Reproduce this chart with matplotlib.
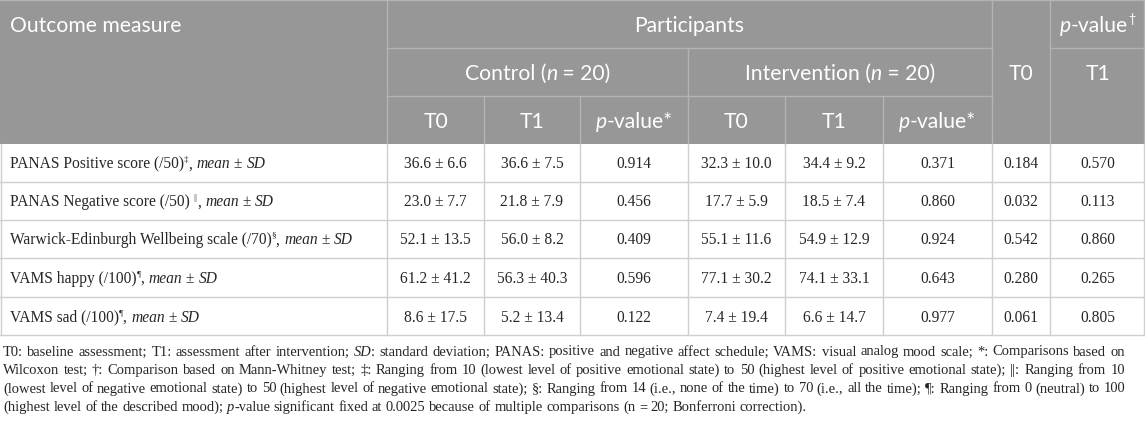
import matplotlib
matplotlib.use("Agg")
import matplotlib.pyplot as plt

# table content
row_names = ["PANAS Positive score (/50)", "PANAS Negative score (/50) ",
             "Warwick-Edinburgh Wellbeing scale (/70)", "VAMS happy (/100)", "VAMS sad (/100)"]
row_marks = ["‡", "||", "§", "¶", "¶"]

ctrl_t0_mean = [36.6, 23.0, 52.1, 61.2, 8.6]
ctrl_t0_sd = [6.6, 7.7, 13.5, 41.2, 17.5]
ctrl_t1_mean = [36.6, 21.8, 56.0, 56.3, 5.2]
ctrl_t1_sd = [7.5, 7.9, 8.2, 40.3, 13.4]
ctrl_p = [0.914, 0.456, 0.409, 0.596, 0.122]
int_t0_mean = [32.3, 17.7, 55.1, 77.1, 7.4]
int_t0_sd = [10.0, 5.9, 11.6, 30.2, 19.4]
int_t1_mean = [34.4, 18.5, 54.9, 74.1, 6.6]
int_t1_sd = [9.2, 7.4, 12.9, 33.1, 14.7]
int_p = [0.371, 0.860, 0.924, 0.643, 0.977]
between_p_t0 = [0.184, 0.032, 0.542, 0.280, 0.061]
between_p_t1 = [0.570, 0.113, 0.860, 0.265, 0.805]

footnotes = [
    [("T0: baseline assessment; T1: assessment after intervention; ", 0), ("SD", 1),
     (": standard deviation; PANAS: positive and negative affect schedule; VAMS: visual analog mood scale; *: Comparisons based on", 0)],
    [("Wilcoxon test; †: Comparison based on Mann-Whitney test; ‡: Ranging from 10 (lowest level of positive emotional state) to 50 (highest level of positive emotional state); ||: Ranging from 10", 0)],
    [("(lowest level of negative emotional state) to 50 (highest level of negative emotional state); §: Ranging from 14 (i.e., none of the time) to 70 (i.e., all the time); ¶: Ranging from 0 (neutral) to 100", 0)],
    [("(highest level of the described mood); ", 0), ("p", 1),
     ("-value significant fixed at 0.0025 because of multiple comparisons (n = 20; Bonferroni correction).", 0)],
]

W, H = 1145, 423
fig = plt.figure(figsize=(W / 100, H / 100), dpi=100)
ax = fig.add_axes([0, 0, 1, 1])
ax.set_xlim(0, W)
ax.set_ylim(H, 0)
ax.axis("off")
rend = fig.canvas.get_renderer()

SANS = "Lato"
SERIF = "Liberation Serif"
HEAD_BG = "#979797"
HEAD_LINE = "#b3b3b3"
BODY_LINE = "#cfcfcf"
TXT = "#262626"

cols = [0, 387, 484, 580, 688, 785, 883, 992, 1050, 1145]
hrows = [0, 48, 96, 144]
brows = [144, 182, 220, 258, 297, 335]


def width(txt, **kw):
    a = ax.text(0, 0, "|" + txt + "|", **kw)
    b = ax.text(0, 0, "||", **kw)
    w = a.get_window_extent(rend).width - b.get_window_extent(rend).width
    a.remove()
    b.remove()
    return w


def runs(x, y, parts, ha="left", size=10, family=SERIF, color=TXT):
    # parts: (text, style) with style '' normal, 'i' italic, 's' superscript
    kws = []
    for txt, st in parts:
        kws.append(dict(family=family, color=color,
                        fontsize=size * 0.6 if "s" in st else size,
                        fontstyle="italic" if "i" in st else "normal"))
    ws = [width(p[0], **kw) for p, kw in zip(parts, kws)]
    cx = x - sum(ws) / 2 if ha == "center" else x
    for (txt, st), kw, w in zip(parts, kws, ws):
        dy = -size * 0.6 if "s" in st else 0
        ax.text(cx, y + dy, txt, va="baseline", ha="left", **kw)
        cx += w


# header background and inner lines
ax.add_patch(plt.Rectangle((0, 0), W, hrows[-1], color=HEAD_BG, lw=0))
hl = dict(color=HEAD_LINE, lw=1)
ax.plot([cols[1], cols[7]], [48, 48], **hl)
ax.plot([cols[8], cols[9]], [48, 48], **hl)
ax.plot([cols[1], cols[7]], [96, 96], **hl)
for c in [cols[1], cols[7], cols[8]]:
    ax.plot([c, c], [0, 144], **hl)
ax.plot([cols[4], cols[4]], [48, 144], **hl)
for c in [cols[2], cols[3], cols[5], cols[6]]:
    ax.plot([c, c], [96, 144], **hl)
ax.plot([0, W], [0.5, 0.5], **hl)
ax.plot([W - 1.5, W - 1.5], [0, 144], **hl)

# body grid
bl = dict(color=BODY_LINE, lw=1)
for r in brows[1:]:
    ax.plot([0, W], [r, r], **bl)
for c in cols[1:-1]:
    ax.plot([c, c], [144, brows[-1]], **bl)
ax.plot([0.5, 0.5], [144, brows[-1]], **bl)
ax.plot([W - 1.5, W - 1.5], [144, brows[-1]], **bl)

# header text
hs = 15.2
white = "white"
runs(10, 32, [("Outcome measure", "")], size=hs, family=SANS, color=white)
runs((cols[1] + cols[7]) / 2, 32, [("Participants", "")], ha="center", size=hs, family=SANS, color=white)
runs((cols[8] + cols[9]) / 2, 32, [("p", "i"), ("-value", ""), ("†", "s")], ha="center", size=hs, family=SANS, color=white)
runs((cols[1] + cols[4]) / 2, 80, [("Control (", ""), ("n", "i"), (" = 20)", "")], ha="center", size=hs, family=SANS, color=white)
runs((cols[4] + cols[7]) / 2, 80, [("Intervention (", ""), ("n", "i"), (" = 20)", "")], ha="center", size=hs, family=SANS, color=white)
runs((cols[7] + cols[8]) / 2, 80, [("T0", "")], ha="center", size=hs, family=SANS, color=white)
runs((cols[8] + cols[9]) / 2, 80, [("T1", "")], ha="center", size=hs, family=SANS, color=white)
sub = ["T0", "T1", None, "T0", "T1", None]
for k, s in enumerate(sub):
    xc = (cols[k + 1] + cols[k + 2]) / 2
    parts = [(s, "")] if s else [("p", "i"), ("-value*", "")]
    runs(xc, 128, parts, ha="center", size=hs, family=SANS, color=white)

# body text
bs = 11.2
for i in range(len(row_names)):
    base = (brows[i] + brows[i + 1]) / 2 + 5.5
    runs(10, base, [(row_names[i], ""), (row_marks[i], "s"), (", ", ""),
                    ("mean", "i"), (" ± ", ""), ("SD", "i")], size=bs)
    cells = [f"{ctrl_t0_mean[i]:.1f} ± {ctrl_t0_sd[i]:.1f}",
             f"{ctrl_t1_mean[i]:.1f} ± {ctrl_t1_sd[i]:.1f}",
             f"{ctrl_p[i]:.3f}",
             f"{int_t0_mean[i]:.1f} ± {int_t0_sd[i]:.1f}",
             f"{int_t1_mean[i]:.1f} ± {int_t1_sd[i]:.1f}",
             f"{int_p[i]:.3f}",
             f"{between_p_t0[i]:.3f}",
             f"{between_p_t1[i]:.3f}"]
    for k, c in enumerate(cells):
        ax.text((cols[k + 1] + cols[k + 2]) / 2, base, c, ha="center", va="baseline",
                family=SERIF, fontsize=bs, color=TXT)


# footnote, justified like the source
def to_words(segs):
    words = [[]]
    for txt, it in segs:
        for k, p in enumerate(txt.split(" ")):
            if k > 0:
                words.append([])
            if p:
                words[-1].append((p, it))
    return [w for w in words if w]


def measure(words, fs):
    return [[width(p, family=SERIF, fontsize=fs, fontstyle="italic" if it else "normal")
             for p, it in w] for w in words]


x0, x1 = 3, 1125
fs = 10
# pick the size that makes the widest line fit with normal spaces
nat = []
for segs in footnotes[:-1]:
    words = to_words(segs)
    wl = measure(words, fs)
    nat.append(sum(map(sum, wl)) + width(" ", family=SERIF, fontsize=fs) * (len(words) - 1))
fs = fs * (x1 - x0 - 4) / max(nat)

space = width(" ", family=SERIF, fontsize=fs)
fbases = [355.5, 374, 392.5, 411]
for li, segs in enumerate(footnotes):
    words = to_words(segs)
    wl = measure(words, fs)
    natural = sum(map(sum, wl))
    gap = (x1 - x0 - natural) / (len(words) - 1) if li < len(footnotes) - 1 else space
    cx = x0
    for w, pw in zip(words, wl):
        for (p, it), pwid in zip(w, pw):
            ax.text(cx, fbases[li], p, va="baseline", ha="left", family=SERIF, fontsize=fs,
                    fontstyle="italic" if it else "normal", color=TXT)
            cx += pwid
        cx += gap

fig.savefig("out.png", dpi=100)
